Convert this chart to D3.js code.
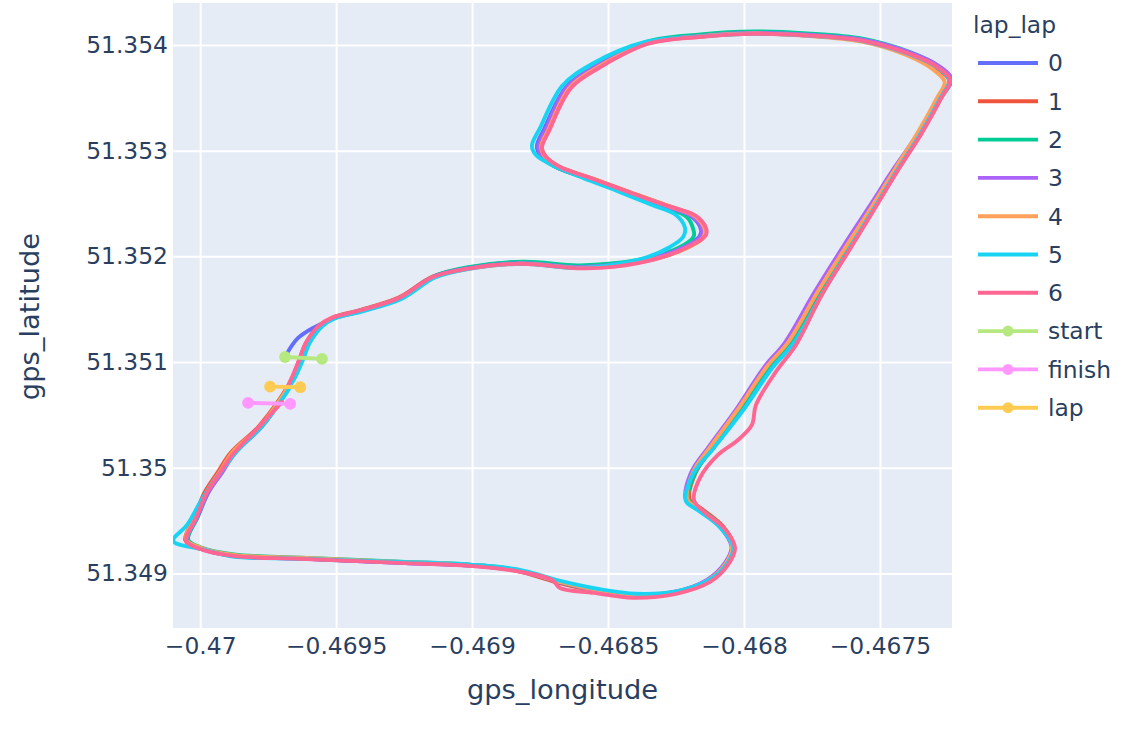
<!DOCTYPE html>
<html>
<head>
<meta charset="utf-8">
<script src="https://cdn.jsdelivr.net/npm/d3@7"></script>
<style>
body { margin: 0; background: #fff; }
text { font-family: "DejaVu Sans", Verdana, sans-serif; fill: #2a3f5f; }
</style>
</head>
<body>
<div id="chart"></div>
<script>
var lapNames = ['0', '1', '2', '3', '4', '5', '6'];
var lapColors = ['#636EFA', '#EF553B', '#00CC96', '#AB63FA', '#FFA15A', '#19D3F3', '#FF6692'];

// [gps_longitude, gps_latitude] per lap
var lap0 = [[-0.469680,51.351086],[-0.469640,51.351228],[-0.469585,51.351323],[-0.469511,51.351410],[-0.469412,51.351480],[-0.469265,51.351600],[-0.469140,51.351810],[-0.469011,51.351895],[-0.468816,51.351945],[-0.468618,51.351905],[-0.468489,51.351925],[-0.468331,51.351990],[-0.468230,51.352085],[-0.468165,51.352185],[-0.468158,51.352250],[-0.468190,51.352370],[-0.468280,51.352465],[-0.468428,51.352598],[-0.468558,51.352720],[-0.468692,51.352845],[-0.468745,51.352940],[-0.468762,51.353040],[-0.468736,51.353200],[-0.468652,51.353610],[-0.468545,51.353800],[-0.468357,51.354025],[-0.468158,51.354090],[-0.467963,51.354114],[-0.467765,51.354095],[-0.467566,51.354045],[-0.467395,51.353925],[-0.467285,51.353795],[-0.467240,51.353665],[-0.467282,51.353505],[-0.467360,51.353165],[-0.467442,51.352840],[-0.467535,51.352465],[-0.467628,51.352085],[-0.467732,51.351650],[-0.467838,51.351180],[-0.467914,51.350950],[-0.468020,51.350545],[-0.468125,51.350195],[-0.468190,51.349950],[-0.468210,51.349690],[-0.468160,51.349598],[-0.468085,51.349438],[-0.468044,51.349250],[-0.468068,51.349098],[-0.468135,51.348936],[-0.468252,51.348825],[-0.468405,51.348800],[-0.468548,51.348848],[-0.468665,51.348915],[-0.468840,51.349030],[-0.469010,51.349075],[-0.469265,51.349100],[-0.469632,51.349140],[-0.469879,51.349170],[-0.470000,51.349240],[-0.470045,51.349320],[-0.470008,51.349540],[-0.469970,51.349765],[-0.469922,51.349955],[-0.469875,51.350145],[-0.469775,51.350390],[-0.469702,51.350645],[-0.469675,51.350765]];
var lap1 = [[-0.469677,51.350765],[-0.469660,51.350860],[-0.469636,51.351020],[-0.469610,51.351185],[-0.469562,51.351345],[-0.469515,51.351420],[-0.469415,51.351490],[-0.469268,51.351612],[-0.469145,51.351808],[-0.469013,51.351888],[-0.468818,51.351935],[-0.468615,51.351895],[-0.468485,51.351912],[-0.468325,51.351978],[-0.468215,51.352075],[-0.468148,51.352180],[-0.468142,51.352250],[-0.468176,51.352375],[-0.468270,51.352470],[-0.468418,51.352605],[-0.468548,51.352728],[-0.468680,51.352850],[-0.468730,51.352945],[-0.468744,51.353035],[-0.468718,51.353195],[-0.468640,51.353598],[-0.468538,51.353788],[-0.468355,51.354015],[-0.468156,51.354080],[-0.467962,51.354108],[-0.467766,51.354088],[-0.467568,51.354040],[-0.467400,51.353918],[-0.467295,51.353785],[-0.467245,51.353662],[-0.467278,51.353505],[-0.467352,51.353170],[-0.467432,51.352850],[-0.467525,51.352470],[-0.467618,51.352090],[-0.467720,51.351655],[-0.467826,51.351182],[-0.467902,51.350955],[-0.468010,51.350548],[-0.468112,51.350198],[-0.468178,51.349952],[-0.468200,51.349700],[-0.468152,51.349605],[-0.468076,51.349442],[-0.468036,51.349252],[-0.468060,51.349100],[-0.468128,51.348938],[-0.468248,51.348822],[-0.468410,51.348792],[-0.468555,51.348840],[-0.468672,51.348905],[-0.468845,51.349030],[-0.469013,51.349078],[-0.469268,51.349105],[-0.469635,51.349142],[-0.469882,51.349170],[-0.470005,51.349238],[-0.470055,51.349315],[-0.470020,51.349535],[-0.469985,51.349762],[-0.469937,51.349952],[-0.469888,51.350142],[-0.469786,51.350388],[-0.469710,51.350642],[-0.469680,51.350765]];
var lap2 = [[-0.469674,51.350765],[-0.469655,51.350858],[-0.469628,51.351022],[-0.469602,51.351184],[-0.469555,51.351345],[-0.469508,51.351420],[-0.469410,51.351488],[-0.469262,51.351610],[-0.469140,51.351812],[-0.469008,51.351900],[-0.468812,51.351950],[-0.468614,51.351915],[-0.468486,51.351932],[-0.468335,51.351995],[-0.468235,51.352088],[-0.468185,51.352188],[-0.468186,51.352252],[-0.468210,51.352372],[-0.468292,51.352466],[-0.468432,51.352598],[-0.468560,51.352720],[-0.468692,51.352844],[-0.468742,51.352938],[-0.468755,51.353034],[-0.468728,51.353198],[-0.468648,51.353608],[-0.468545,51.353800],[-0.468360,51.354030],[-0.468160,51.354100],[-0.467965,51.354128],[-0.467766,51.354110],[-0.467564,51.354060],[-0.467392,51.353935],[-0.467285,51.353800],[-0.467238,51.353672],[-0.467272,51.353510],[-0.467348,51.353168],[-0.467428,51.352846],[-0.467520,51.352465],[-0.467612,51.352088],[-0.467715,51.351652],[-0.467822,51.351180],[-0.467900,51.350952],[-0.468008,51.350545],[-0.468112,51.350195],[-0.468180,51.349950],[-0.468204,51.349694],[-0.468156,51.349600],[-0.468080,51.349440],[-0.468040,51.349250],[-0.468064,51.349098],[-0.468130,51.348938],[-0.468246,51.348828],[-0.468404,51.348800],[-0.468550,51.348846],[-0.468668,51.348912],[-0.468840,51.349036],[-0.469009,51.349084],[-0.469262,51.349112],[-0.469630,51.349150],[-0.469876,51.349180],[-0.469996,51.349246],[-0.470044,51.349318],[-0.470010,51.349536],[-0.469972,51.349764],[-0.469924,51.349952],[-0.469876,51.350140],[-0.469777,51.350386],[-0.469704,51.350642],[-0.469676,51.350765]];
var lap3 = [[-0.469678,51.350765],[-0.469660,51.350858],[-0.469634,51.351020],[-0.469610,51.351180],[-0.469562,51.351340],[-0.469514,51.351415],[-0.469414,51.351482],[-0.469266,51.351606],[-0.469144,51.351804],[-0.469012,51.351888],[-0.468816,51.351936],[-0.468620,51.351898],[-0.468490,51.351918],[-0.468334,51.351984],[-0.468228,51.352078],[-0.468160,51.352182],[-0.468154,51.352250],[-0.468186,51.352372],[-0.468278,51.352466],[-0.468425,51.352600],[-0.468554,51.352722],[-0.468688,51.352846],[-0.468740,51.352940],[-0.468756,51.353035],[-0.468730,51.353196],[-0.468650,51.353604],[-0.468546,51.353794],[-0.468360,51.354020],[-0.468160,51.354086],[-0.467964,51.354114],[-0.467764,51.354096],[-0.467562,51.354050],[-0.467390,51.353930],[-0.467282,51.353798],[-0.467236,51.353672],[-0.467276,51.353510],[-0.467358,51.353168],[-0.467445,51.352846],[-0.467540,51.352468],[-0.467636,51.352090],[-0.467742,51.351655],[-0.467850,51.351182],[-0.467925,51.350955],[-0.468030,51.350548],[-0.468130,51.350198],[-0.468195,51.349952],[-0.468214,51.349698],[-0.468164,51.349602],[-0.468088,51.349440],[-0.468046,51.349252],[-0.468070,51.349100],[-0.468136,51.348940],[-0.468254,51.348828],[-0.468408,51.348798],[-0.468552,51.348846],[-0.468668,51.348912],[-0.468842,51.349032],[-0.469012,51.349076],[-0.469266,51.349102],[-0.469632,51.349140],[-0.469880,51.349166],[-0.470002,51.349236],[-0.470050,51.349314],[-0.470012,51.349534],[-0.469972,51.349762],[-0.469920,51.349952],[-0.469872,51.350140],[-0.469774,51.350386],[-0.469704,51.350640],[-0.469678,51.350765]];
var lap4 = [[-0.469676,51.350765],[-0.469656,51.350860],[-0.469630,51.351022],[-0.469604,51.351184],[-0.469556,51.351344],[-0.469510,51.351418],[-0.469410,51.351486],[-0.469264,51.351608],[-0.469142,51.351800],[-0.469010,51.351882],[-0.468814,51.351930],[-0.468616,51.351890],[-0.468486,51.351910],[-0.468326,51.351975],[-0.468216,51.352072],[-0.468150,51.352178],[-0.468144,51.352252],[-0.468178,51.352376],[-0.468272,51.352470],[-0.468420,51.352604],[-0.468550,51.352726],[-0.468682,51.352848],[-0.468732,51.352942],[-0.468746,51.353036],[-0.468720,51.353196],[-0.468640,51.353600],[-0.468538,51.353790],[-0.468354,51.354016],[-0.468156,51.354082],[-0.467962,51.354108],[-0.467768,51.354086],[-0.467572,51.354034],[-0.467408,51.353910],[-0.467310,51.353778],[-0.467262,51.353650],[-0.467290,51.353500],[-0.467362,51.353166],[-0.467440,51.352846],[-0.467530,51.352470],[-0.467625,51.352092],[-0.467730,51.351660],[-0.467838,51.351186],[-0.467915,51.350960],[-0.468022,51.350554],[-0.468122,51.350204],[-0.468188,51.349955],[-0.468208,51.349698],[-0.468160,51.349602],[-0.468084,51.349442],[-0.468044,51.349252],[-0.468066,51.349098],[-0.468130,51.348940],[-0.468244,51.348830],[-0.468400,51.348802],[-0.468548,51.348848],[-0.468666,51.348914],[-0.468840,51.349036],[-0.469010,51.349082],[-0.469264,51.349110],[-0.469630,51.349148],[-0.469878,51.349176],[-0.470000,51.349246],[-0.470052,51.349320],[-0.470016,51.349538],[-0.469978,51.349764],[-0.469930,51.349954],[-0.469882,51.350144],[-0.469780,51.350390],[-0.469706,51.350644],[-0.469677,51.350765]];
var lap5 = [[-0.469672,51.350765],[-0.469650,51.350860],[-0.469622,51.351022],[-0.469596,51.351186],[-0.469550,51.351340],[-0.469505,51.351412],[-0.469406,51.351478],[-0.469258,51.351600],[-0.469136,51.351800],[-0.469006,51.351884],[-0.468814,51.351930],[-0.468626,51.351890],[-0.468511,51.351909],[-0.468364,51.351985],[-0.468272,51.352089],[-0.468224,51.352183],[-0.468217,51.352269],[-0.468250,51.352392],[-0.468338,51.352486],[-0.468467,51.352619],[-0.468592,51.352742],[-0.468713,51.352874],[-0.468765,51.352959],[-0.468780,51.353045],[-0.468750,51.353215],[-0.468669,51.353612],[-0.468559,51.353820],[-0.468364,51.354028],[-0.468160,51.354080],[-0.467964,51.354105],[-0.467766,51.354088],[-0.467568,51.354040],[-0.467398,51.353918],[-0.467290,51.353790],[-0.467245,51.353665],[-0.467276,51.353505],[-0.467350,51.353165],[-0.467430,51.352842],[-0.467520,51.352462],[-0.467610,51.352082],[-0.467712,51.351648],[-0.467818,51.351176],[-0.467895,51.350948],[-0.468004,51.350540],[-0.468110,51.350190],[-0.468186,51.349946],[-0.468214,51.349690],[-0.468168,51.349596],[-0.468088,51.349436],[-0.468040,51.349248],[-0.468060,51.349100],[-0.468124,51.348945],[-0.468240,51.348836],[-0.468395,51.348808],[-0.468540,51.348855],[-0.468660,51.348920],[-0.468836,51.349040],[-0.469006,51.349084],[-0.469262,51.349108],[-0.469630,51.349140],[-0.469880,51.349160],[-0.469982,51.349223],[-0.470099,51.349308],[-0.470048,51.349459],[-0.469989,51.349724],[-0.469919,51.349979],[-0.469860,51.350169],[-0.469768,51.350405],[-0.469695,51.350661],[-0.469669,51.350765]];
var lap6 = [[-0.469679,51.350765],[-0.469662,51.350858],[-0.469636,51.351018],[-0.469612,51.351178],[-0.469565,51.351340],[-0.469516,51.351418],[-0.469416,51.351486],[-0.469268,51.351606],[-0.469146,51.351802],[-0.469015,51.351884],[-0.468820,51.351930],[-0.468612,51.351888],[-0.468480,51.351900],[-0.468316,51.351980],[-0.468199,51.352099],[-0.468140,51.352202],[-0.468140,51.352269],[-0.468177,51.352383],[-0.468272,51.352470],[-0.468419,51.352602],[-0.468548,51.352725],[-0.468677,51.352846],[-0.468728,51.352940],[-0.468743,51.353026],[-0.468717,51.353187],[-0.468636,51.353594],[-0.468534,51.353782],[-0.468352,51.354012],[-0.468154,51.354078],[-0.467960,51.354105],[-0.467762,51.354090],[-0.467564,51.354040],[-0.467396,51.353920],[-0.467288,51.353790],[-0.467242,51.353668],[-0.467272,51.353508],[-0.467345,51.353170],[-0.467425,51.352850],[-0.467515,51.352470],[-0.467605,51.352090],[-0.467714,51.351635],[-0.467809,51.351162],[-0.467883,51.350907],[-0.467956,51.350594],[-0.467971,51.350405],[-0.468022,51.350263],[-0.468096,51.350121],[-0.468162,51.349904],[-0.468184,51.349696],[-0.468147,51.349582],[-0.468074,51.349431],[-0.468033,51.349242],[-0.468059,51.349081],[-0.468125,51.348920],[-0.468250,51.348807],[-0.468408,51.348769],[-0.468552,51.348816],[-0.468677,51.348863],[-0.468706,51.348939],[-0.468842,51.349024],[-0.469011,51.349072],[-0.469265,51.349100],[-0.469632,51.349138],[-0.469879,51.349166],[-0.470000,51.349232],[-0.470051,51.349308],[-0.470015,51.349526],[-0.469978,51.349753],[-0.469930,51.349941],[-0.469882,51.350121],[-0.469787,51.350377],[-0.469699,51.350623]];
var laps = [lap0, lap1, lap2, lap3, lap4, lap5, lap6];

// start / finish / lap gate lines
var gateNames = ['start', 'finish', 'lap'];
var gateColors = ['#B6E880', '#FF97FF', '#FECB52'];
var startLine = [[-0.469688, 51.351048], [-0.469552, 51.351030]];
var finishLine = [[-0.469824, 51.350614], [-0.469669, 51.350604]];
var lapLine = [[-0.469743, 51.350768], [-0.469632, 51.350762]];
var gates = [startLine, finishLine, lapLine];

var xTicks = [-0.47, -0.4695, -0.469, -0.4685, -0.468, -0.4675];
var yTicks = [51.349, 51.35, 51.351, 51.352, 51.353, 51.354];
var xRange = [-0.4701, -0.467235];
var yRange = [51.348484, 51.354397];

var width = 1127;
var height = 729;
var margin = {left: 173, right: 175, top: 3, bottom: 101};
var plotW = width - margin.left - margin.right;
var plotH = height - margin.top - margin.bottom;

var svg = d3.select('#chart')
    .append('svg')
    .attr('width', width)
    .attr('height', height);

var g = svg.append('g')
    .attr('transform', 'translate(' + margin.left + ',' + margin.top + ')');

var x = d3.scaleLinear().domain(xRange).range([0, plotW]);
var y = d3.scaleLinear().domain(yRange).range([plotH, 0]);

g.append('rect')
    .attr('width', plotW)
    .attr('height', plotH)
    .attr('fill', '#E5ECF6');

g.append('clipPath')
    .attr('id', 'plotclip')
    .append('rect')
    .attr('width', plotW)
    .attr('height', plotH);

var fmt = d3.format('~f');

var xAxis = g.append('g')
    .attr('transform', 'translate(0,' + plotH + ')')
    .call(d3.axisBottom(x).tickValues(xTicks).tickSize(-plotH).tickPadding(9.4).tickFormat(fmt));
var yAxis = g.append('g')
    .call(d3.axisLeft(y).tickValues(yTicks).tickSize(-plotW).tickPadding(5).tickFormat(fmt));

[xAxis, yAxis].forEach(function(ax) {
    ax.select('.domain').remove();
    ax.selectAll('line').attr('stroke', '#fff').attr('stroke-width', 2);
    ax.selectAll('text')
        .attr('fill', '#2a3f5f')
        .style('font-size', '23.4px')
        .style('font-family', '"DejaVu Sans", Verdana, sans-serif');
});

var line = d3.line()
    .x(function(d) { return x(d[0]); })
    .y(function(d) { return y(d[1]); })
    .curve(d3.curveCatmullRom.alpha(0.5));

var traces = g.append('g').attr('clip-path', 'url(#plotclip)');

traces.selectAll('.lap')
    .data(laps)
    .enter()
    .append('path')
    .attr('class', 'lap')
    .attr('d', line)
    .attr('fill', 'none')
    .attr('stroke', function(d, i) { return lapColors[i]; })
    .attr('stroke-width', 3.9)
    .attr('stroke-linejoin', 'round')
    .attr('stroke-linecap', 'round');

gates.forEach(function(pts, i) {
    traces.append('path')
        .attr('d', d3.line().x(function(d) { return x(d[0]); }).y(function(d) { return y(d[1]); })(pts))
        .attr('fill', 'none')
        .attr('stroke', gateColors[i])
        .attr('stroke-width', 3.9);
    traces.selectAll('.gate' + i)
        .data(pts)
        .enter()
        .append('circle')
        .attr('class', 'gate' + i)
        .attr('cx', function(d) { return x(d[0]); })
        .attr('cy', function(d) { return y(d[1]); })
        .attr('r', 5.9)
        .attr('fill', gateColors[i]);
});

// axis titles
g.append('text')
    .attr('x', plotW / 2)
    .attr('y', 696)
    .attr('text-anchor', 'middle')
    .style('font-size', '27.3px')
    .text('gps_longitude');

g.append('text')
    .attr('transform', 'translate(' + (39 - margin.left) + ',' + (plotH / 2 + 1) + ') rotate(-90)')
    .attr('text-anchor', 'middle')
    .style('font-size', '27.3px')
    .text('gps_latitude');

// legend
var legendItems = lapNames.concat(gateNames);
var legendColors = lapColors.concat(gateColors);
var legendTop = 63;
var legendStep = 38.3;

svg.append('text')
    .attr('x', 973)
    .attr('y', 33)
    .style('font-size', '23.4px')
    .text('lap_lap');

var legend = svg.selectAll('.legend')
    .data(legendItems)
    .enter()
    .append('g')
    .attr('class', 'legend')
    .attr('transform', function(d, i) {
        return 'translate(978,' + (legendTop + i * legendStep) + ')';
    });

legend.append('line')
    .attr('x1', 0)
    .attr('x2', 60)
    .attr('stroke', function(d, i) { return legendColors[i]; })
    .attr('stroke-width', 3.9);

legend.filter(function(d, i) { return i >= lapNames.length; })
    .append('circle')
    .attr('cx', 30)
    .attr('r', 5.5)
    .attr('fill', function(d) { return gateColors[gateNames.indexOf(d)]; });

legend.append('text')
    .attr('x', 70)
    .attr('y', 8.3)
    .style('font-size', '23.4px')
    .text(function(d) { return d; });
</script>
</body>
</html>
